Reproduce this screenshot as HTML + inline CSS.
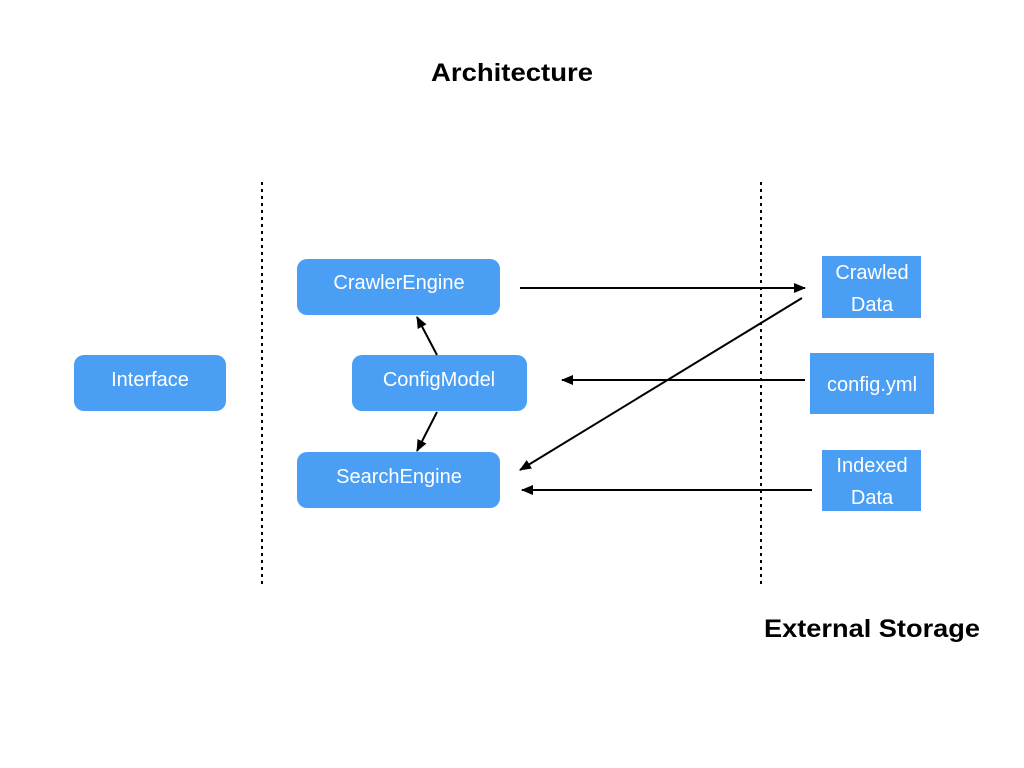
<!DOCTYPE html>
<html><head><style>
body{margin:0;width:1024px;height:768px;background:#fff;overflow:hidden;font-family:"Liberation Sans",sans-serif}
svg{position:absolute;left:0;top:0}
</style></head><body>
<svg width="1024" height="768" font-family="Liberation Sans, sans-serif">
<defs><marker id="a" markerWidth="12" markerHeight="10" refX="11" refY="5" orient="auto" markerUnits="userSpaceOnUse"><path d="M0,0 L12,5 L0,10 z" fill="#000"/></marker></defs>
<text x="512" y="81" text-anchor="middle" font-size="25" font-weight="bold" textLength="162" lengthAdjust="spacingAndGlyphs">Architecture</text>
<text x="872" y="637" text-anchor="middle" font-size="25" font-weight="bold" textLength="216" lengthAdjust="spacingAndGlyphs">External Storage</text>
<line x1="262" y1="182" x2="262" y2="586" stroke="#000" stroke-width="2" stroke-dasharray="3,4"/>
<line x1="761" y1="182" x2="761" y2="586" stroke="#000" stroke-width="2" stroke-dasharray="3,4"/>
<g fill="#4a9ff5">
<rect x="297" y="259" width="203" height="56" rx="10"/>
<rect x="352" y="355" width="175" height="56" rx="10"/>
<rect x="297" y="452" width="203" height="56" rx="10"/>
<rect x="74" y="355" width="152" height="56" rx="10"/>
<rect x="822" y="256" width="99" height="62"/>
<rect x="810" y="353" width="124" height="61"/>
<rect x="822" y="450" width="99" height="61"/>
</g>
<g fill="#fff" font-size="20" text-anchor="middle">
<text x="399" y="289">CrawlerEngine</text>
<text x="439" y="386">ConfigModel</text>
<text x="399" y="483">SearchEngine</text>
<text x="150" y="386">Interface</text>
<text x="872" y="279">Crawled</text><text x="872" y="311">Data</text>
<text x="872" y="391">config.yml</text>
<text x="872" y="472">Indexed</text><text x="872" y="504">Data</text>
</g>
<g stroke="#000" stroke-width="2" marker-end="url(#a)">
<line x1="520" y1="288" x2="805" y2="288"/>
<line x1="802" y1="298" x2="520" y2="470"/>
<line x1="805" y1="380" x2="562" y2="380"/>
<line x1="812" y1="490" x2="522" y2="490"/>
<line x1="437" y1="355" x2="417" y2="317"/>
<line x1="437" y1="412" x2="417" y2="451"/>
</g>
</svg>
</body></html>
